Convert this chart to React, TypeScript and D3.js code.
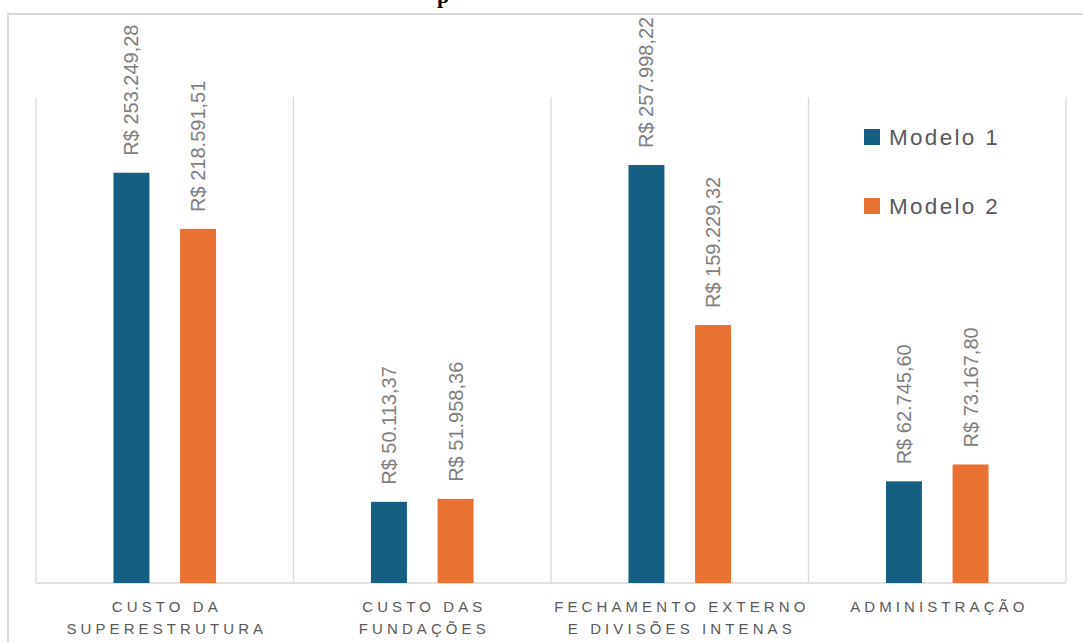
import React from 'react';
import * as d3 from 'd3';

// Dados do gráfico
const categories = [
  ['CUSTO DA', 'SUPERESTRUTURA'],
  ['CUSTO DAS', 'FUNDAÇÕES'],
  ['FECHAMENTO EXTERNO', 'E DIVISÕES INTENAS'],
  ['ADMINISTRAÇÃO'],
];
const seriesNames = ['Modelo 1', 'Modelo 2'];
const modelo1 = [253249.28, 50113.37, 257998.22, 62745.6];
const modelo2 = [218591.51, 51958.36, 159229.32, 73167.8];
const seriesColors = ['#156082', '#E97132'];
const yMax = 300000;

const W = 1083;
const H = 643;
const plot = { left: 36, right: 1066, top: 97, bottom: 583 };

const brl = d3.formatLocale({
  decimal: ',',
  thousands: '.',
  grouping: [3],
  currency: ['R$ ', ''],
});
const fmt = brl.format('$,.2f');

export default function App() {
  const keys = categories.map((c) => c.join(' '));
  const values = [modelo1, modelo2];

  const x0 = d3.scaleBand<string>().domain(keys).range([plot.left, plot.right]).padding(0);
  const x1 = d3
    .scaleBand<string>()
    .domain(seriesNames)
    .range([0, x0.bandwidth()])
    .paddingInner(0.46)
    .paddingOuter(1.163);
  const y = d3.scaleLinear().domain([0, yMax]).range([plot.bottom, plot.top]);

  const gridXs = [...keys.map((k) => x0(k) as number), plot.right];
  const grey = '#d9d9d9';
  const catSpacing = 4.1;

  return (
    <svg
      width={W}
      height={H}
      style={{ position: 'absolute', left: 0, top: 0, background: '#fff' }}
      fontFamily="'Liberation Sans', Arial, sans-serif"
    >
      {/* fragmento do título (cortado no topo, como na imagem) */}
      <text x={437} y={3} fontFamily="'Liberation Serif', serif" fontWeight="bold" fontSize={22} fill="#000">
        p
      </text>

      {/* moldura */}
      <rect x={8} y={14} width={1100} height={660} fill="none" stroke={grey} strokeWidth={2} />

      {/* linhas de grade verticais */}
      {gridXs.map((gx, i) => (
        <line key={i} x1={gx} x2={gx} y1={plot.top} y2={plot.bottom} stroke={grey} strokeWidth={1.3} />
      ))}
      <line x1={plot.left} x2={plot.right} y1={plot.bottom} y2={plot.bottom} stroke={grey} strokeWidth={1.3} />

      {/* barras e rótulos */}
      {keys.map((k, ci) => (
        <g key={k} transform={`translate(${x0(k)},0)`}>
          {seriesNames.map((s, si) => {
            const v = values[si][ci];
            const bx = x1(s) as number;
            const cx = bx + x1.bandwidth() / 2;
            return (
              <g key={s}>
                <rect
                  x={bx}
                  y={y(v)}
                  width={x1.bandwidth()}
                  height={plot.bottom - y(v)}
                  fill={seriesColors[si]}
                />
                <text
                  transform={`translate(${cx},${y(v) - 17}) rotate(-90)`}
                  dy="0.35em"
                  fontSize={20}
                  fill="#7f7f7f"
                >
                  {fmt(v)}
                </text>
              </g>
            );
          })}
        </g>
      ))}

      {/* rótulos das categorias */}
      {categories.map((lines, ci) => {
        const cx = (x0(keys[ci]) as number) + x0.bandwidth() / 2;
        return (
          <text key={ci} textAnchor="middle" fontSize={15} fill="#595959" letterSpacing={catSpacing}>
            {lines.map((l, li) => (
              <tspan key={li} x={cx + catSpacing / 2} y={612 + li * 22}>
                {l}
              </tspan>
            ))}
          </text>
        );
      })}

      {/* legenda */}
      {seriesNames.map((s, si) => (
        <g key={s} transform={`translate(864,${129 + si * 69})`}>
          <rect width={16} height={16} fill={seriesColors[si]} />
          <text x={25} y={15.5} fontSize={22.5} fill="#595959" letterSpacing={2.3}>
            {s}
          </text>
        </g>
      ))}
    </svg>
  );
}
